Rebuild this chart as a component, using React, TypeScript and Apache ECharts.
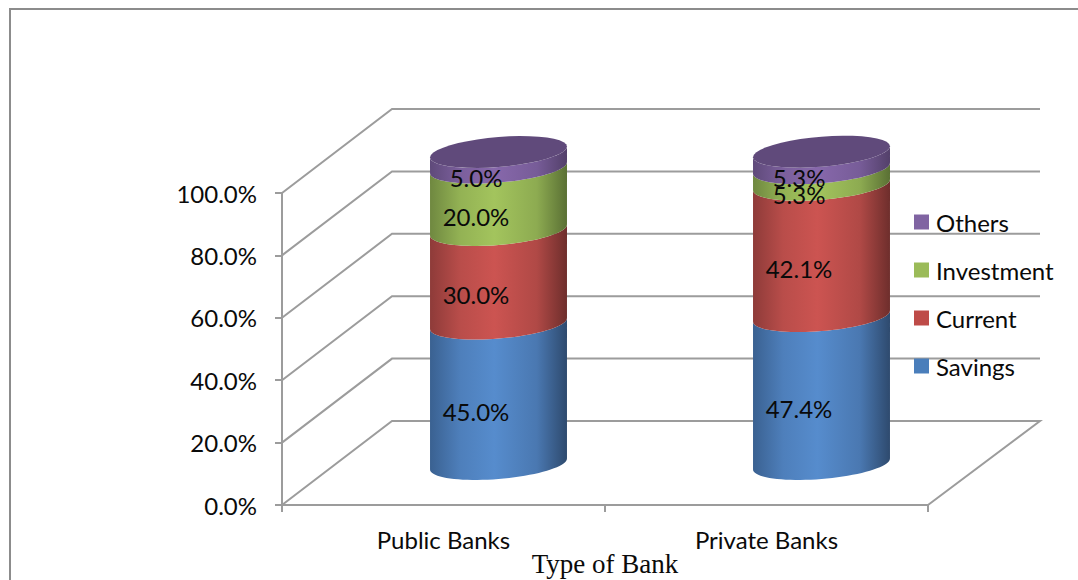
import React, { useEffect, useRef } from "react";
import * as echarts from "echarts";

const bankTypes = ["Public Banks", "Private Banks"];
const savings = [45.0, 47.4];
const current = [30.0, 42.1];
const investment = [20.0, 5.3];
const others = [5.0, 5.3];
const gridValues = [0, 20, 40, 60, 80, 100];

const SANS = "Lato, 'Open Sans', sans-serif";
const SERIF = "'Liberation Serif', 'Times New Roman', serif";
const WALL = "#9c9c9c";

// Oblique projection of the plot box: how far the back wall sits from the front plane.
const DEPTH_X = 110;
const DEPTH_Y = 84;
const RADIUS_RATIO = 0.212;
const ARC_TILT = 5.5;
const ARC_MINOR = 15;

function blend(a: string, b: string) {
  const hex = (s: string) => [1, 3, 5].map((i) => parseInt(s.slice(i, i + 2), 16));
  const x = hex(a);
  const y = hex(b);
  const m = x.map((v, i) => Math.round(v * 0.3 + y[i] * 0.7));
  return `rgb(${m[0]},${m[1]},${m[2]})`;
}

const shade = (left: string, mid: string, right: string) =>
  new echarts.graphic.LinearGradient(0, 0, 1, 0, [
    { offset: 0, color: left },
    { offset: 0.22, color: blend(left, mid) },
    { offset: 0.47, color: mid },
    { offset: 0.78, color: blend(right, mid) },
    { offset: 1, color: right },
  ]);

const stackSeries = [
  { name: "Savings", values: savings, below: [] as number[][], swatch: "#4a7ebb", body: ["#3a6191", "#568ccd", "#2e4a6e"] },
  { name: "Current", values: current, below: [savings], swatch: "#be4b48", body: ["#8e3b39", "#cc5451", "#6e2e2c"] },
  { name: "Investment", values: investment, below: [savings, current], swatch: "#9bbb59", body: ["#6f8840", "#a3c45d", "#5a7034"] },
  { name: "Others", values: others, below: [savings, current, investment], swatch: "#8064a2", body: ["#5f4a7a", "#8768ab", "#53406a"], lid: "#604a7b" },
];

function arc(cx: number, cy: number, a: number, from: number, to: number) {
  const steps = 40;
  const pts: number[][] = [];
  for (let i = 0; i <= steps; i++) {
    const t = from + ((to - from) * i) / steps;
    pts.push([cx + a * Math.cos(t), cy - ARC_TILT * Math.cos(t) + ARC_MINOR * Math.sin(t)]);
  }
  return pts;
}

function wallRenderer(params: any, api: any) {
  const box = params.coordSys;
  const v = api.value(1);
  const y = api.coord([0, v])[1];
  const x0 = box.x;
  const x1 = box.x + box.width;
  const pts = [
    [x0, y],
    [x0 + DEPTH_X, y - DEPTH_Y],
    [x1 + DEPTH_X + 2, y - DEPTH_Y],
  ];
  if (v === 0) pts.push([x1, y]);
  return {
    type: "polyline",
    shape: { points: pts },
    style: { stroke: WALL, lineWidth: 2, fill: "none" },
    silent: true,
  };
}

function segmentRenderer(def: any) {
  return (_params: any, api: any) => {
    const idx = api.value(0);
    const base = api.value(1);
    const top = api.value(2);
    const value = api.value(3);
    const center = api.coord([idx, base]);
    const upper = api.coord([idx, top]);
    const a = api.size([1, 0])[0] * RADIUS_RATIO;
    const cx = center[0] + DEPTH_X / 2;
    const yLow = center[1] - DEPTH_Y / 2 + 1;
    const yHigh = upper[1] - DEPTH_Y / 2 + 1;
    const children: any[] = [
      {
        type: "polygon",
        shape: {
          points: [...arc(cx, yLow, a, Math.PI, 0), ...arc(cx, yHigh, a, 0, Math.PI)],
        },
        style: { fill: shade(def.body[0], def.body[1], def.body[2]) },
      },
    ];
    if (def.lid) {
      children.push({
        type: "polygon",
        shape: { points: arc(cx, yHigh, a, 0, Math.PI * 2) },
        style: { fill: def.lid },
      });
    }
    const mid = api.coord([idx, base + value / 2]);
    children.push({
      type: "text",
      x: mid[0] + 32.5,
      y: mid[1] - 23,
      style: {
        text: `${value.toFixed(1)}%`,
        fill: "#0a0a0a",
        font: `24px ${SANS}`,
        align: "center",
        verticalAlign: "middle",
      },
      z2: 10,
    });
    return { type: "group", children };
  };
}

export default function App() {
  const ref = useRef<HTMLDivElement>(null);

  useEffect(() => {
    const chart = echarts.init(ref.current!, undefined, { renderer: "svg" });
    chart.setOption({
      animation: false,
      backgroundColor: "#ffffff",
      textStyle: { fontFamily: SANS },
      grid: { left: 282, top: 193, width: 646, height: 312, containLabel: false, outerBoundsMode: "none" },
      graphic: [
        {
          type: "polyline",
          shape: { points: [[10, 580], [10, 9], [1078, 9]] },
          style: { stroke: "#8c8c8c", lineWidth: 2, fill: "none" },
        },
      ],
      xAxis: {
        type: "category",
        data: bankTypes,
        name: "Type of Bank",
        nameLocation: "middle",
        nameGap: 45,
        nameMoveOverlap: false,
        nameTextStyle: { fontFamily: SERIF, fontSize: 27, color: "#0a0a0a" },
        axisLine: { lineStyle: { color: WALL, width: 2 } },
        axisTick: { show: true, length: 7, lineStyle: { color: WALL, width: 2 } },
        axisLabel: { color: "#0a0a0a", fontSize: 24, fontFamily: SANS, margin: 22 },
      },
      yAxis: {
        type: "value",
        min: 0,
        max: 100,
        interval: 20,
        axisLine: { show: true, lineStyle: { color: WALL, width: 2 } },
        axisTick: { show: true, length: 7, lineStyle: { color: WALL, width: 2 } },
        splitLine: { show: false },
        axisLabel: {
          color: "#0a0a0a",
          fontSize: 24,
          fontFamily: SANS,
          margin: 25,
          verticalAlign: "middle",
          padding: [4, 0, 0, 0],
          formatter: (v: number) => `${v.toFixed(1)}%`,
        },
      },
      legend: {
        orient: "vertical",
        left: 909,
        top: 205,
        itemWidth: 15,
        itemHeight: 15,
        itemGap: 24,
        icon: "rect",
        data: ["Others", "Investment", "Current", "Savings"],
        textStyle: { color: "#0a0a0a", fontSize: 24, fontFamily: SANS, padding: [0, 0, 0, 2] },
      },
      series: [
        {
          type: "custom",
          name: "walls",
          silent: true,
          z: 1,
          encode: { x: 0, y: 1 },
          renderItem: wallRenderer,
          data: gridValues.map((v) => [0, v]),
        },
        ...stackSeries.map((def, order) => ({
          type: "custom",
          name: def.name,
          z: 2 + order,
          clip: false,
          itemStyle: { color: def.swatch },
          encode: { x: 0, y: 2 },
          renderItem: segmentRenderer(def),
          data: bankTypes.map((_, i) => {
            const base = def.below.reduce((sum, arr) => sum + arr[i], 0);
            return [i, base, base + def.values[i], def.values[i]];
          }),
        })),
      ],
    });
    return () => chart.dispose();
  }, []);

  return <div ref={ref} style={{ position: "absolute", left: 0, top: 0, width: 1078, height: 580 }} />;
}
